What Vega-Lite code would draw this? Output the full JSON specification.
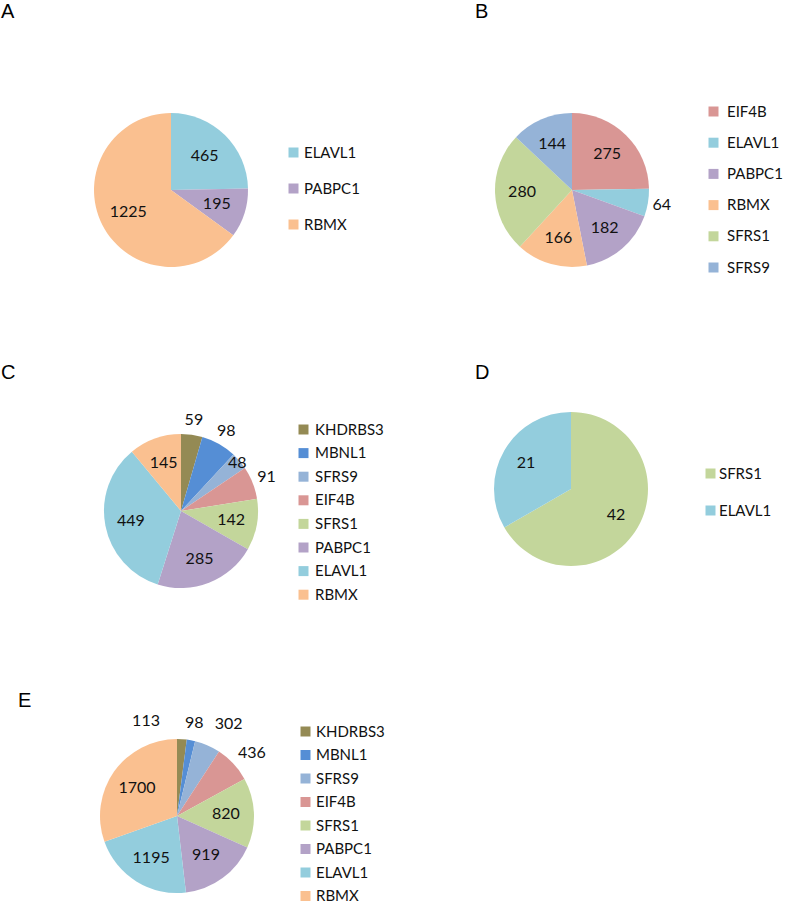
{
  "$schema": "https://vega.github.io/schema/vega-lite/v6.json",
  "padding": {"left": 1, "top": 2, "right": 0, "bottom": 0},
  "background": "white",
  "config": {
    "view": {"stroke": null},
    "title": {"anchor": "start", "frame": "group", "fontSize": 20, "font": "Liberation Sans", "fontWeight": "normal", "color": "black"},
    "legend": {"orient": "none", "direction": "vertical", "title": null, "symbolType": "square", "symbolSize": 100, "symbolStrokeWidth": 0, "labelFont": "Lato", "labelFontSize": 15, "labelColor": "#111111", "padding": 0},
    "text": {"font": "Lato", "fontSize": 16, "color": "#111111", "align": "center", "baseline": "middle"}
  },
  "data": {"values": [
    {"panel": "A", "gene": "ELAVL1", "value": 465, "rank": 1},
    {"panel": "A", "gene": "PABPC1", "value": 195, "rank": 2},
    {"panel": "A", "gene": "RBMX", "value": 1225, "rank": 3},
    {"panel": "B", "gene": "EIF4B", "value": 275, "rank": 1},
    {"panel": "B", "gene": "ELAVL1", "value": 64, "rank": 2},
    {"panel": "B", "gene": "PABPC1", "value": 182, "rank": 3},
    {"panel": "B", "gene": "RBMX", "value": 166, "rank": 4},
    {"panel": "B", "gene": "SFRS1", "value": 280, "rank": 5},
    {"panel": "B", "gene": "SFRS9", "value": 144, "rank": 6},
    {"panel": "C", "gene": "KHDRBS3", "value": 59, "rank": 1},
    {"panel": "C", "gene": "MBNL1", "value": 98, "rank": 2},
    {"panel": "C", "gene": "SFRS9", "value": 48, "rank": 3},
    {"panel": "C", "gene": "EIF4B", "value": 91, "rank": 4},
    {"panel": "C", "gene": "SFRS1", "value": 142, "rank": 5},
    {"panel": "C", "gene": "PABPC1", "value": 285, "rank": 6},
    {"panel": "C", "gene": "ELAVL1", "value": 449, "rank": 7},
    {"panel": "C", "gene": "RBMX", "value": 145, "rank": 8},
    {"panel": "D", "gene": "SFRS1", "value": 42, "rank": 1},
    {"panel": "D", "gene": "ELAVL1", "value": 21, "rank": 2},
    {"panel": "E", "gene": "KHDRBS3", "value": 113, "rank": 1},
    {"panel": "E", "gene": "MBNL1", "value": 98, "rank": 2},
    {"panel": "E", "gene": "SFRS9", "value": 302, "rank": 3},
    {"panel": "E", "gene": "EIF4B", "value": 436, "rank": 4},
    {"panel": "E", "gene": "SFRS1", "value": 820, "rank": 5},
    {"panel": "E", "gene": "PABPC1", "value": 919, "rank": 6},
    {"panel": "E", "gene": "ELAVL1", "value": 1195, "rank": 7},
    {"panel": "E", "gene": "RBMX", "value": 1700, "rank": 8}
  ]},
  "columns": 2,
  "bounds": "flush",
  "align": "each",
  "spacing": {"row": 127, "column": 114},
  "resolve": {"scale": {"color": "independent", "theta": "independent"}, "legend": {"color": "independent"}},
  "concat": [
    {
      "width": 340, "height": 186,
      "title": {"text": "A", "offset": 75},
      "transform": [
        {"filter": "datum.panel === 'A'"},
        {"stack": "value", "groupby": [], "sort": [{"field": "rank", "order": "ascending"}], "offset": "normalize", "as": ["v0", "v1"]},
        {"calculate": "(datum.v0 + datum.v1) / 2", "as": "mid"}
      ],
      "layer": [
        {
          "mark": {"type": "arc", "outerRadius": 77},
          "encoding": {
            "theta": {"field": "v0", "type": "quantitative", "stack": null, "scale": {"domain": [0, 1], "nice": false}},
            "theta2": {"field": "v1"},
            "color": {"field": "gene", "type": "nominal",
              "scale": {"domain": ["ELAVL1", "PABPC1", "RBMX"], "range": ["#93CDDD", "#B3A2C7", "#FAC090"]},
              "legend": {"legendX": 285, "legendY": 48, "rowPadding": 20, "labelOffset": 3}}
          }
        },
        {
          "mark": {"type": "text", "radius": 48},
          "encoding": {
            "theta": {"field": "mid", "type": "quantitative", "stack": null, "scale": {"domain": [0, 1], "nice": false}},
            "text": {"field": "value", "type": "quantitative", "format": "d"}
          }
        }
      ]
    },
    {
      "width": 194, "height": 186,
      "title": {"text": "B", "offset": 75},
      "transform": [
        {"filter": "datum.panel === 'B'"},
        {"stack": "value", "groupby": [], "sort": [{"field": "rank", "order": "ascending"}], "offset": "normalize", "as": ["v0", "v1"]},
        {"calculate": "(datum.v0 + datum.v1) / 2", "as": "mid"}
      ],
      "layer": [
        {
          "mark": {"type": "arc", "outerRadius": 77},
          "encoding": {
            "theta": {"field": "v0", "type": "quantitative", "stack": null, "scale": {"domain": [0, 1], "nice": false}},
            "theta2": {"field": "v1"},
            "color": {"field": "gene", "type": "nominal",
              "scale": {"domain": ["EIF4B", "ELAVL1", "PABPC1", "RBMX", "SFRS1", "SFRS9"], "range": ["#D99694", "#93CDDD", "#B3A2C7", "#FAC090", "#C3D69B", "#95B3D7"]},
              "legend": {"legendX": 231, "legendY": 7, "rowPadding": 15.2, "labelOffset": 6}}
          }
        },
        {
          "transform": [{"filter": "datum.value >= 100"}],
          "mark": {"type": "text", "radius": 50},
          "encoding": {
            "theta": {"field": "mid", "type": "quantitative", "stack": null, "scale": {"domain": [0, 1], "nice": false}},
            "text": {"field": "value", "type": "quantitative", "format": "d"}
          }
        },
        {
          "transform": [{"filter": "datum.value < 100"}],
          "mark": {"type": "text", "radius": 91},
          "encoding": {
            "theta": {"field": "mid", "type": "quantitative", "stack": null, "scale": {"domain": [0, 1], "nice": false}},
            "text": {"field": "value", "type": "quantitative", "format": "d"}
          }
        }
      ]
    },
    {
      "width": 360, "height": 202,
      "title": {"text": "C", "offset": 27},
      "transform": [
        {"filter": "datum.panel === 'C'"},
        {"stack": "value", "groupby": [], "sort": [{"field": "rank", "order": "ascending"}], "offset": "normalize", "as": ["v0", "v1"]},
        {"calculate": "(datum.v0 + datum.v1) / 2", "as": "mid"}
      ],
      "layer": [
        {
          "mark": {"type": "arc", "outerRadius": 77},
          "encoding": {
            "theta": {"field": "v0", "type": "quantitative", "stack": null, "scale": {"domain": [0, 1], "nice": false}},
            "theta2": {"field": "v1"},
            "color": {"field": "gene", "type": "nominal",
              "scale": {"domain": ["KHDRBS3", "MBNL1", "SFRS9", "EIF4B", "SFRS1", "PABPC1", "ELAVL1", "RBMX"], "range": ["#948A54", "#558ED5", "#95B3D7", "#D99694", "#C3D69B", "#B3A2C7", "#93CDDD", "#FAC090"]},
              "legend": {"legendX": 295, "legendY": 12, "rowPadding": 7.6, "labelOffset": 4}}
          }
        },
        {
          "transform": [{"filter": "datum.value >= 140"}],
          "mark": {"type": "text", "radius": 51},
          "encoding": {
            "theta": {"field": "mid", "type": "quantitative", "stack": null, "scale": {"domain": [0, 1], "nice": false}},
            "text": {"field": "value", "type": "quantitative", "format": "d"}
          }
        },
        {
          "transform": [{"filter": "datum.value < 140 && datum.value >= 50"}],
          "mark": {"type": "text", "radius": 92},
          "encoding": {
            "theta": {"field": "mid", "type": "quantitative", "stack": null, "scale": {"domain": [0, 1], "nice": false}},
            "text": {"field": "value", "type": "quantitative", "format": "d"}
          }
        },
        {
          "transform": [{"filter": "datum.value < 50"}],
          "mark": {"type": "text", "radius": 74},
          "encoding": {
            "theta": {"field": "mid", "type": "quantitative", "stack": null, "scale": {"domain": [0, 1], "nice": false}},
            "text": {"field": "value", "type": "quantitative", "format": "d"}
          }
        }
      ]
    },
    {
      "width": 192, "height": 158,
      "title": {"text": "D", "offset": 27},
      "transform": [
        {"filter": "datum.panel === 'D'"},
        {"stack": "value", "groupby": [], "sort": [{"field": "rank", "order": "ascending"}], "offset": "normalize", "as": ["v0", "v1"]},
        {"calculate": "(datum.v0 + datum.v1) / 2", "as": "mid"}
      ],
      "layer": [
        {
          "mark": {"type": "arc", "outerRadius": 77},
          "encoding": {
            "theta": {"field": "v0", "type": "quantitative", "stack": null, "scale": {"domain": [0, 1], "nice": false}},
            "theta2": {"field": "v1"},
            "color": {"field": "gene", "type": "nominal",
              "scale": {"domain": ["SFRS1", "ELAVL1"], "range": ["#C3D69B", "#93CDDD"]},
              "legend": {"legendX": 228, "legendY": 56, "rowPadding": 21, "labelOffset": 1}}
          }
        },
        {
          "mark": {"type": "text", "radius": 52},
          "encoding": {
            "theta": {"field": "mid", "type": "quantitative", "stack": null, "scale": {"domain": [0, 1], "nice": false}},
            "text": {"field": "value", "type": "quantitative", "format": "d"}
          }
        }
      ]
    },
    {
      "width": 352, "height": 154,
      "title": {"text": "E", "offset": 2, "dx": 17},
      "transform": [
        {"filter": "datum.panel === 'E'"},
        {"stack": "value", "groupby": [], "sort": [{"field": "rank", "order": "ascending"}], "offset": "normalize", "as": ["v0", "v1"]},
        {"calculate": "(datum.v0 + datum.v1) / 2", "as": "mid"}
      ],
      "layer": [
        {
          "mark": {"type": "arc", "outerRadius": 77},
          "encoding": {
            "theta": {"field": "v0", "type": "quantitative", "stack": null, "scale": {"domain": [0, 1], "nice": false}},
            "theta2": {"field": "v1"},
            "color": {"field": "gene", "type": "nominal",
              "scale": {"domain": ["KHDRBS3", "MBNL1", "SFRS9", "EIF4B", "SFRS1", "PABPC1", "ELAVL1", "RBMX"], "range": ["#948A54", "#558ED5", "#95B3D7", "#D99694", "#C3D69B", "#B3A2C7", "#93CDDD", "#FAC090"]},
              "legend": {"legendX": 297, "legendY": -15, "rowPadding": 7.5, "labelOffset": 3}}
          }
        },
        {
          "transform": [{"filter": "datum.value >= 800"}],
          "mark": {"type": "text", "radius": 49},
          "encoding": {
            "theta": {"field": "mid", "type": "quantitative", "stack": null, "scale": {"domain": [0, 1], "nice": false}},
            "text": {"field": "value", "type": "quantitative", "format": "d"}
          }
        },
        {
          "transform": [{"filter": "datum.gene === 'MBNL1'"}],
          "mark": {"type": "text", "radius": 95},
          "encoding": {
            "theta": {"field": "mid", "type": "quantitative", "stack": null, "scale": {"domain": [0, 1], "nice": false}},
            "text": {"field": "value", "type": "quantitative", "format": "d"}
          }
        },
        {
          "transform": [{"filter": "datum.gene === 'EIF4B'"}],
          "mark": {"type": "text", "radius": 98, "dx": 3, "dy": 4},
          "encoding": {
            "theta": {"field": "mid", "type": "quantitative", "stack": null, "scale": {"domain": [0, 1], "nice": false}},
            "text": {"field": "value", "type": "quantitative", "format": "d"}
          }
        },
        {
          "transform": [{"filter": "datum.gene === 'SFRS9'"}],
          "mark": {"type": "text", "radius": 100, "dx": 12},
          "encoding": {
            "theta": {"field": "mid", "type": "quantitative", "stack": null, "scale": {"domain": [0, 1], "nice": false}},
            "text": {"field": "value", "type": "quantitative", "format": "d"}
          }
        },
        {
          "transform": [{"filter": "datum.gene === 'KHDRBS3'"}],
          "mark": {"type": "text", "radius": 95, "dx": -37},
          "encoding": {
            "theta": {"field": "mid", "type": "quantitative", "stack": null, "scale": {"domain": [0, 1], "nice": false}},
            "text": {"field": "value", "type": "quantitative", "format": "d"}
          }
        }
      ]
    }
  ]
}
